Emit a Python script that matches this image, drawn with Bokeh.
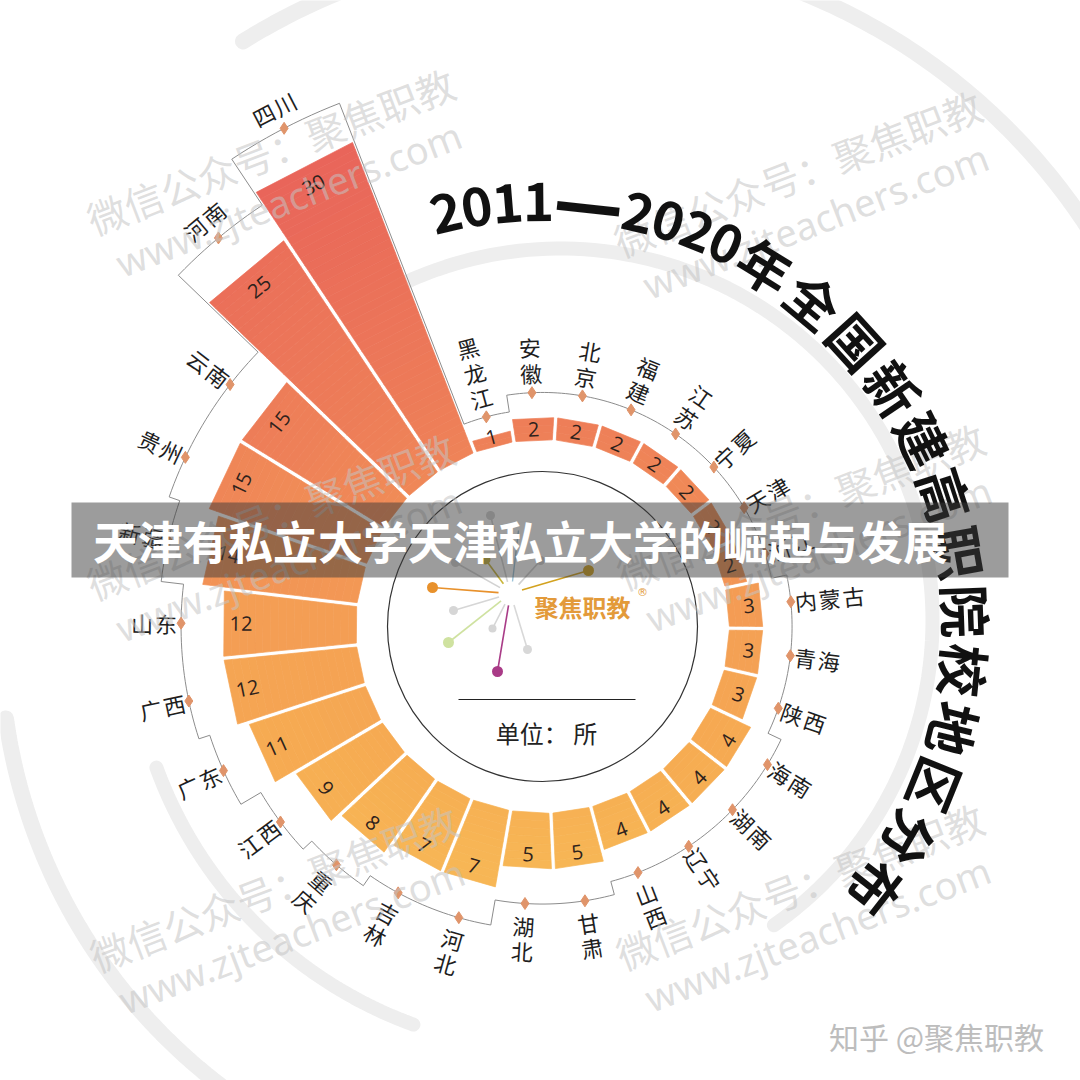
import math
from bokeh.plotting import figure
from bokeh.models import Range1d
from bokeh.embed import file_html
from bokeh.resources import INLINE
from bokeh.core.properties import value

# ---------------- data ----------------
provinces = ["黑龙江", "安徽", "北京", "福建", "江苏", "宁夏", "天津", "浙江", "内蒙古",
             "青海", "陕西", "海南", "湖南", "辽宁", "山西", "甘肃", "湖北", "河北",
             "吉林", "重庆", "江西", "广东", "广西", "山东", "新疆", "贵州", "云南",
             "河南", "四川"]
counts = [1, 2, 2, 2, 2, 2, 2, 2, 3, 3, 3, 4, 4, 4, 4, 5, 5, 7, 7, 8, 9, 11, 12, 12,
          14, 15, 15, 25, 30]
title_text = "2011—2020年全国新建高职院校地区分布"
unit_text = "单位： 所"
banner_text = "天津有私立大学天津私立大学的崛起与发展"
logo_text = "聚焦职教"
credit_text = "知乎 @聚焦职教"
wm_line1 = "微信公众号：聚焦职教"
wm_line2 = "www.zjteachers.com"

# ---------------- geometry ----------------
W = H = 1080
CX, CY = 542.0, H - 626.0
R0 = 186.0          # inner radius of bars
K = 11.04           # px per unit
N = len(provinces)
STEP = 360.0 / N
THETA0 = -15.0
CJK = value("Noto Sans CJK SC")


def P(theta, r):
    t = math.radians(theta)
    return CX + r * math.sin(t), CY + r * math.cos(t)


stops = [(140, (232, 98, 90)), (440, (238, 128, 88)), (620, (244, 158, 84)),
         (760, (246, 172, 82)), (860, (247, 182, 85))]


def grad(ys):
    if ys <= stops[0][0]:
        c = stops[0][1]
    elif ys >= stops[-1][0]:
        c = stops[-1][1]
    else:
        for (y1, c1), (y2, c2) in zip(stops[:-1], stops[1:]):
            if y1 <= ys <= y2:
                f = (ys - y1) / (y2 - y1)
                c = tuple(int(round(a + (b - a) * f)) for a, b in zip(c1, c2))
                break
    return "#%02x%02x%02x" % c


p = figure(width=W, height=H, x_range=Range1d(0, W), y_range=Range1d(0, H),
           output_backend="svg", toolbar_location=None, x_axis_type=None,
           y_axis_type=None, min_border=0)
p.grid.visible = False
p.outline_line_color = None
p.background_fill_color = "white"
p.border_fill_color = "white"

# ---------------- background rings (watermark logo) ----------------
ring_col = "#eeeeee"
def ring(cx_s, cy_s, r, a1, a2, width):
    xs, ys = [], []
    for k in range(121):
        a = a1 + (a2 - a1) * k / 120
        t = math.radians(a)
        xs.append(cx_s + r * math.sin(t))
        ys.append(H - (cy_s - r * math.cos(t)))
    p.line(xs, ys, line_color=ring_col, line_width=width, line_cap="round")

ring(570, 565, 618, -32, 100, 16)
ring(560, 640, 560, 205, 262, 16)
ring(560, 620, 372, -28, 145, 14)
ring(560, 620, 430, 200, 250, 14)

# ---------------- bars (sliced for vertical gradient) ----------------
half = math.radians(STEP / 2)
gap = 4.0
bxs, bys, bcols = [], [], []
for i, v in enumerate(counts):
    th = THETA0 + i * STEP
    t = math.radians(th)
    u = (math.sin(t), math.cos(t))
    w = (math.cos(t), -math.sin(t))
    s_out = R0 + K * v
    n = max(1, int(math.ceil((s_out - R0) / 8.0)))

    def corner(s, sign):
        hw = s * math.tan(half) - gap / 2 / math.cos(half)
        return (CX + s * u[0] + sign * hw * w[0], CY + s * u[1] + sign * hw * w[1])

    for j in range(n):
        s1 = R0 + (s_out - R0) * j / n
        s2 = R0 + (s_out - R0) * (j + 1) / n
        pts = [corner(s1, -1), corner(s2, -1), corner(s2, 1), corner(s1, 1)]
        bxs.append([q[0] for q in pts])
        bys.append([q[1] for q in pts])
        sm = (s1 + s2) / 2
        bcols.append(grad(H - (CY + sm * u[1])))
p.patches(bxs, bys, fill_color=bcols, line_color=bcols, line_width=0.7)

# ---------------- value labels ----------------
vx, vy, vt, va = [], [], [], []
for i, v in enumerate(counts):
    th = (THETA0 + i * STEP) % 360
    s_out = R0 + K * v
    r_lab = max(R0 + 10, s_out - min(11 + 0.6 * (v - 2), 20))
    if 65 < th < 115:
        rot = 90 - th
    elif 245 < th < 290:
        rot = 270 - th
    elif 115 <= th <= 245:
        rot = 180 - th
    else:
        rot = -th if th < 180 else 360 - th
    x, y = P(th, r_lab)
    vx.append(x); vy.append(y); vt.append(str(v)); va.append(rot)
p.text(vx, vy, text=vt, angle=va, angle_units="deg", text_align="center",
       text_baseline="middle", text_font=value("Open Sans"), text_font_size="20px",
       text_color="#2e221c")

# ---------------- outer stepped boundary + diamonds ----------------
def pad(v):
    return 44 - 24 * math.exp(-(v - 1) / 3.5)

rb = [R0 + K * v + pad(v) for v in counts]
lx, ly = [], []
for i in range(N):
    th = THETA0 + i * STEP
    for k in range(13):
        a = th - STEP / 2 + STEP * k / 12
        x, y = P(a, rb[i])
        lx.append(x); ly.append(y)
lx.append(lx[0]); ly.append(ly[0])
p.line(lx, ly, line_color="#8c8c8c", line_width=1)

dx_, dy_ = [], []
for i in range(N):
    x, y = P(THETA0 + i * STEP, rb[i])
    dx_.append(x); dy_.append(y)
p.scatter(dx_, dy_, marker="diamond", size=12, fill_color="#e0946a",
          line_color="#e0946a")

# ---------------- province labels ----------------
cx_, cy_, ct, ca = [], [], [], []
for i, name in enumerate(provinces):
    th = (THETA0 + i * STEP) % 360
    rbase = rb[i]
    n = len(name)
    t = math.radians(th)
    wv = (math.cos(t), -math.sin(t))
    for k, ch in enumerate(name):
        if th >= 340 or th < 40:
            rot = -th if th < 180 else 360 - th
            x, y = P(th, rbase + 20 + (n - 1 - k) * 26)
        elif 150 <= th <= 225:
            rot = 180 - th
            x, y = P(th, rbase + 22 + k * 25)
        elif 40 <= th < 150:
            rot = 90 - th
            x, y = P(th, rbase + 15 + k * 24)
        elif 225 < th < 315:
            rot = 270 - th
            x, y = P(th, rbase + 15 + (n - 1 - k) * 24)
        else:
            rot = 360 - th
            x, y = P(th, rbase + 22)
            off = (k - (n - 1) / 2) * 24
            x += off * wv[0]; y += off * wv[1]
        cx_.append(x); cy_.append(y); ct.append(ch); ca.append(rot)
p.text(cx_, cy_, text=ct, angle=ca, angle_units="deg", text_align="center",
       text_baseline="middle", text_font=CJK, text_font_size="22px",
       text_color="#1e1e1e")

# ---------------- inner circle, logo, unit ----------------
p.circle(x=[CX], y=[CY], radius=155, fill_color=None, line_color="#333333",
         line_width=1.2)

hub = (510, H - 593)
logo_dots = [(432, 587, "#e8912c", 11), (455, 562, "#d2d2d2", 9),
             (485, 559, "#c9b53a", 10), (490, 515, "#d2d2d2", 9),
             (540, 560, "#d0d0d0", 9), (588, 570, "#d3a21f", 11),
             (453, 610, "#d6d6d6", 9), (448, 642, "#cfe2a0", 11),
             (492, 628, "#d6d6d6", 8), (497, 671, "#a93b87", 11),
             (527, 649, "#d8d8d8", 9)]
sx0, sy0, sx1, sy1, scol = [], [], [], [], []
for (x, y, c, s) in logo_dots:
    tx, ty = x, H - y
    ddx, ddy = tx - hub[0], ty - hub[1]
    L = math.hypot(ddx, ddy)
    sx0.append(hub[0] + ddx / L * 12); sy0.append(hub[1] + ddy / L * 12)
    sx1.append(tx); sy1.append(ty); scol.append(c)
p.segment(sx0, sy0, sx1, sy1, line_color=scol, line_width=1.6)
p.segment([hub[0] + 2], [hub[1] + 12], [518], [H - 530], line_color="#9cc3d8",
          line_width=1.4)
p.scatter([d[0] for d in logo_dots], [H - d[1] for d in logo_dots], size=[d[3] for d in logo_dots],
          fill_color=[d[2] for d in logo_dots], line_color=None)
p.text([582], [H - 606], text=[logo_text], text_align="center", text_baseline="middle",
       text_font=CJK, text_font_style="bold", text_font_size="24px", text_color="#e39a3a")
p.text([642], [H - 592], text=["®"], text_align="center", text_baseline="middle",
       text_font=value("DejaVu Sans"), text_font_size="11px", text_color="#e39a3a")

p.segment([458], [H - 699], [635], [H - 699], line_color="#222222", line_width=1)
p.text([546], [H - 732], text=[unit_text], text_align="center", text_baseline="middle",
       text_font=CJK, text_font_size="24px", text_color="#222222")

# ---------------- watermarks ----------------
wm_pos = [(270, 150), (797, 172), (270, 515), (800, 505), (273, 887), (799, 885)]
wx1, wy1, wx2, wy2 = [], [], [], []
for (x, y) in wm_pos:
    wx1.append(x); wy1.append(H - y)
    wx2.append(x + 18); wy2.append(H - y - 48)
p.text(wx1, wy1, text=[wm_line1] * len(wm_pos), angle=21, angle_units="deg",
       text_align="center", text_baseline="middle", text_font=CJK,
       text_font_size="39px", text_color="#c4c4c4", text_alpha=0.55)
p.text(wx2, wy2, text=[wm_line2] * len(wm_pos), angle=21, angle_units="deg",
       text_align="center", text_baseline="middle", text_font=value("Noto Sans"),
       text_font_size="38px", text_color="#c4c4c4", text_alpha=0.55)

# ---------------- arched title ----------------
R_T = 425.0
widths = []
for ch in title_text:
    if ch.isdigit():
        widths.append(31.0)
    elif ch == "—":
        widths.append(70.0)
    else:
        widths.append(59.6)
tx_, ty_, ta_, tt_ = [], [], [], []
dash_x, dash_y, dash_a = [], [], []
acc = 0.0
start = -13.1
for k, ch in enumerate(title_text):
    centre_arc = acc + widths[k] / 2 - widths[0] / 2
    ang = start + math.degrees(centre_arc / R_T)
    acc += widths[k]
    x, y = P(ang, R_T)
    if ch == "—":
        dash_x.append(x); dash_y.append(y); dash_a.append(-ang)
    else:
        tx_.append(x); ty_.append(y); ta_.append(-ang); tt_.append(ch)
p.text(tx_, ty_, text=tt_, angle=ta_, angle_units="deg",
       text_align="center", text_baseline="middle", text_font=CJK,
       text_font_style="bold", text_font_size="53px", text_color="#111111")
p.text(dash_x, dash_y, text=["—"] * len(dash_x), angle=dash_a, angle_units="deg",
       text_align="center", text_baseline="middle", text_font=value("DejaVu Sans"),
       text_font_style="bold", text_font_size="70px", text_color="#111111")

# ---------------- banner ----------------
p.quad(left=[71], right=[1008], top=[H - 502], bottom=[H - 577], fill_color="#3a3a3a",
       fill_alpha=0.5, line_color=None)
p.text([520], [H - 540], text=[banner_text], text_align="center", text_baseline="middle",
       text_font=CJK, text_font_style="bold", text_font_size="45px", text_color="white")

# ---------------- credit ----------------
p.text([936], [H - 1035], text=[credit_text], text_align="center", text_baseline="middle",
       text_font=CJK, text_font_size="30px", text_color="#bdbdbd")

open("out.html", "w").write(file_html(p, INLINE))
